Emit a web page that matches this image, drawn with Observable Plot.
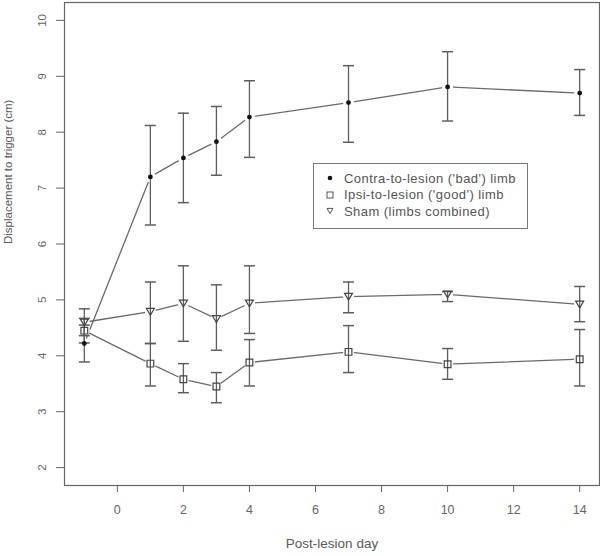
<!DOCTYPE html>
<html>
<head>
<meta charset="utf-8">
<script src="https://cdn.jsdelivr.net/npm/d3@7"></script>
<script src="https://cdn.jsdelivr.net/npm/@observablehq/plot@0.6"></script>
<style>
  html, body { margin: 0; padding: 0; background: #fff; }
  #wrap { position: relative; width: 600px; height: 556px; font-family: "Liberation Sans", Arial, sans-serif; }
  #legend { position: absolute; left: 313px; top: 163px; width: 215px; height: 66px; border: 1px solid #777; box-sizing: border-box; background: #fff; padding-top: 6px; }
  .item { display: flex; align-items: center; height: 16.5px; font-size: 13px; letter-spacing: 0.45px; color: #555; white-space: nowrap; }
  .item svg { margin-left: 12px; margin-right: 10px; }
</style>
</head>
<body>
<div id="wrap"><div id="chart"></div><div id="legend"></div></div>
<script>
// Days post-lesion
const days = [-1, 1, 2, 3, 4, 7, 10, 14];

// Contra-to-lesion ('bad') limb
const contraMean = [4.22, 7.20, 7.54, 7.83, 8.27, 8.53, 8.81, 8.70];
const contraLo   = [3.89, 6.34, 6.74, 7.23, 7.55, 7.82, 8.20, 8.30];
const contraHi   = [4.55, 8.12, 8.34, 8.46, 8.92, 9.19, 9.44, 9.12];

// Ipsi-to-lesion ('good') limb
const ipsiMean = [4.45, 3.86, 3.58, 3.45, 3.88, 4.07, 3.85, 3.94];
const ipsiLo   = [4.23, 3.46, 3.34, 3.16, 3.46, 3.70, 3.58, 3.46];
const ipsiHi   = [4.67, 4.22, 3.86, 3.70, 4.29, 4.54, 4.13, 4.47];

// Sham (limbs combined)
const shamMean = [4.60, 4.79, 4.94, 4.66, 4.94, 5.06, 5.10, 4.92];
const shamLo   = [4.36, 4.22, 4.26, 4.10, 4.40, 4.77, 4.97, 4.61];
const shamHi   = [4.84, 5.32, 5.61, 5.27, 5.61, 5.32, 5.15, 5.24];

const seriesNames = ["Contra-to-lesion ('bad') limb", "Ipsi-to-lesion ('good') limb", "Sham (limbs combined)"];
const xTicks = [0, 2, 4, 6, 8, 10, 12, 14];
const yTicks = [2, 3, 4, 5, 6, 7, 8, 9, 10];
const xTitle = "Post-lesion day";
const yTitle = "Displacement to trigger (cm)";

function rows(name, mean, lo, hi) {
  return days.map((d, i) => ({series: name, day: d, mean: mean[i], lo: lo[i], hi: hi[i]}));
}
const contra = rows(seriesNames[0], contraMean, contraLo, contraHi);
const ipsi = rows(seriesNames[1], ipsiMean, ipsiLo, ipsiHi);
const sham = rows(seriesNames[2], shamMean, shamLo, shamHi);
const all = [...contra, ...ipsi, ...sham];

const capSymbol = {draw(ctx, size) { const w = Math.sqrt(size / Math.PI); ctx.moveTo(-w, 0); ctx.lineTo(w, 0); }};
const triDown = {draw(ctx, size) { const r = Math.sqrt(size / Math.PI); ctx.moveTo(-r, -r * 0.8); ctx.lineTo(r, -r * 0.8); ctx.lineTo(0, r * 0.9); ctx.closePath(); }};

const grey = "#5e5e5e";
const chart = Plot.plot({
  width: 600, height: 556,
  marginLeft: 64, marginRight: 1, marginTop: 2, marginBottom: 71,
  x: {domain: [-1.6, 14.6]},
  y: {domain: [1.68, 10.32]},
  style: {fontFamily: "'Liberation Sans', Arial, sans-serif", color: "#666", background: "#fff"},
  marks: [
    Plot.axisX({ticks: xTicks, tickSize: 7, tickPadding: 13, fontSize: 12.5, label: null, stroke: "#666"}),
    Plot.axisY({ticks: yTicks, tickSize: 8, tickPadding: 11, tickRotate: -90, fontSize: 11.5, label: null, stroke: "#666"}),
    Plot.text([xTitle], {frameAnchor: "bottom", dy: 62, fontSize: 13.5, fill: "#5a5a5a", style: "letter-spacing:0.4px"}),
    Plot.text([yTitle], {frameAnchor: "left", dx: -56, rotate: -90, fontSize: 11.5, fill: "#5a5a5a"}),
    Plot.lineY(all, {x: "day", y: "mean", z: "series", stroke: "#6a6a6a", strokeWidth: 1.3}),
    Plot.dot(all, {x: "day", y: "mean", r: 5.5, fill: "white", stroke: null}),
    Plot.ruleX(all, {x: "day", y1: "lo", y2: "hi", stroke: grey, strokeWidth: 1.3}),
    Plot.dot(all, {x: "day", y: "lo", symbol: capSymbol, r: 5.5, stroke: grey, strokeWidth: 1.5}),
    Plot.dot(all, {x: "day", y: "hi", symbol: capSymbol, r: 5.5, stroke: grey, strokeWidth: 1.5}),
    Plot.dot(contra, {x: "day", y: "mean", r: 2.4, fill: "#111", stroke: null}),
    Plot.dot(ipsi, {x: "day", y: "mean", symbol: "square", r: 3.8, fill: "none", stroke: "#444", strokeWidth: 1.2}),
    Plot.dot(sham, {x: "day", y: "mean", symbol: triDown, r: 4, fill: "none", stroke: "#444", strokeWidth: 1.2}),
    Plot.frame({stroke: "#666", strokeWidth: 1.2})
  ]
});
document.getElementById("chart").appendChild(chart);

const symbolsSvg = [
  '<svg width="8" height="10"><circle cx="4" cy="5" r="2.3" fill="#111"/></svg>',
  '<svg width="8" height="10"><rect x="1" y="2" width="6" height="6" fill="none" stroke="#555" stroke-width="1"/></svg>',
  '<svg width="8" height="10"><path d="M1,2.4 L7,2.4 L4,7.6 Z" fill="none" stroke="#555" stroke-width="1"/></svg>'
];
const legend = document.getElementById("legend");
seriesNames.forEach((name, i) => {
  const div = document.createElement("div");
  div.className = "item";
  div.innerHTML = symbolsSvg[i];
  const span = document.createElement("span");
  span.textContent = name;
  div.appendChild(span);
  legend.appendChild(div);
});
</script>
</body>
</html>
